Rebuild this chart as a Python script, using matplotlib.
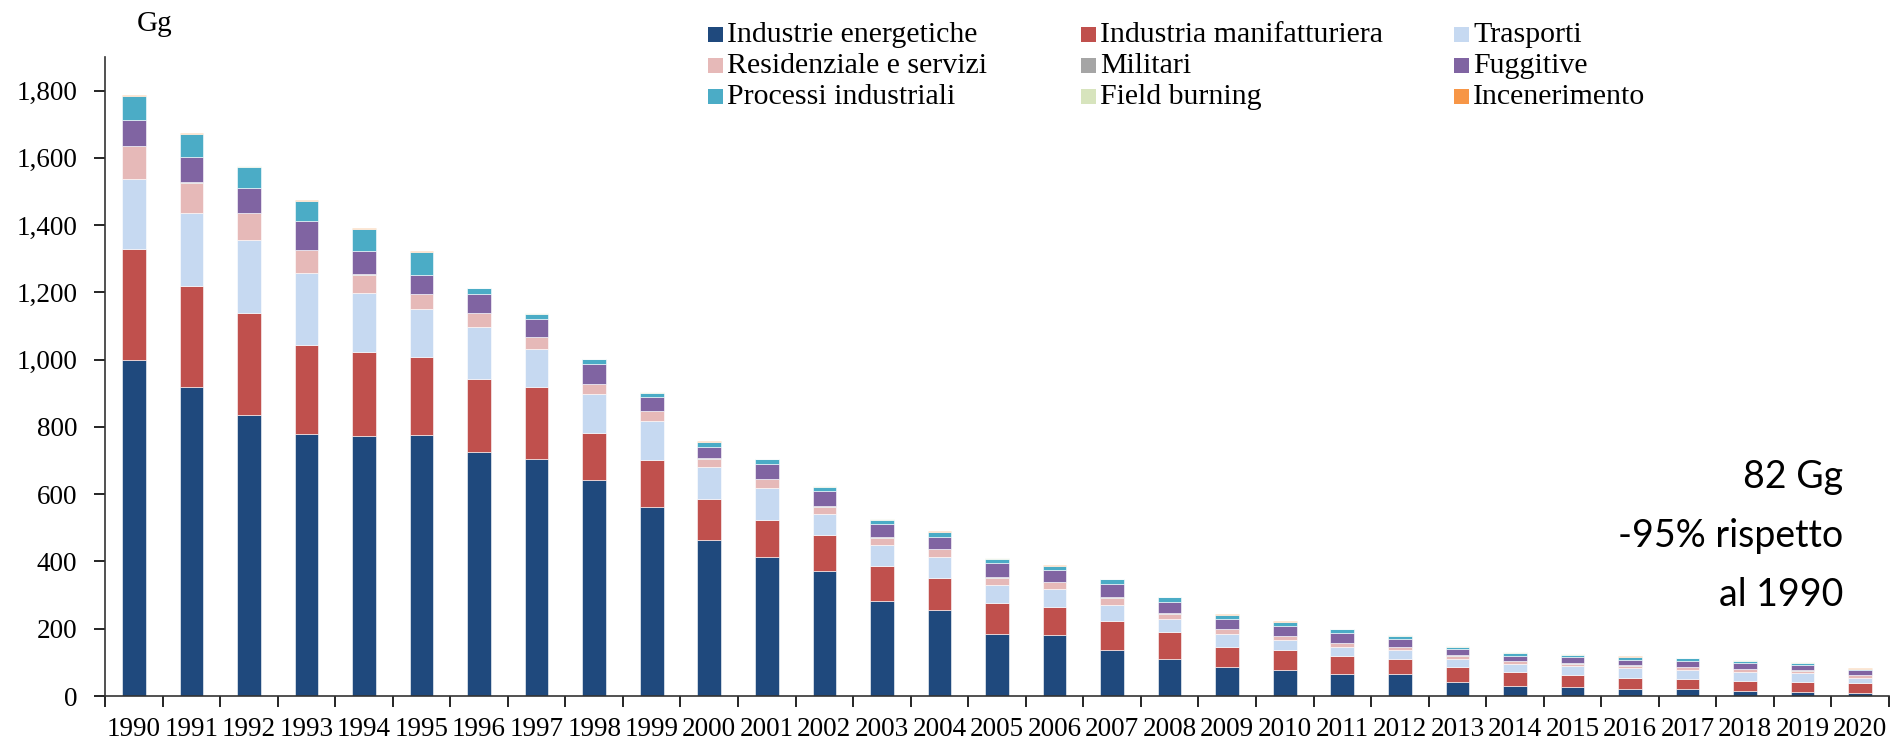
import numpy as np
import matplotlib
matplotlib.use("Agg")
import matplotlib.pyplot as plt
from matplotlib.patches import Rectangle
from matplotlib.ticker import FuncFormatter

years = list(range(1990, 2021))

# Gg per settore
energetiche = [1000, 918, 837, 778, 772, 775, 726, 706, 642, 563, 464, 414, 373, 281, 257,
               185, 182, 138, 111, 87, 76, 64, 64, 43, 30, 28, 22, 20, 16, 12, 10]
manifatturiera = [328, 301, 302, 266, 250, 232, 218, 214, 140, 140, 121, 110, 107, 107, 95,
                  92, 84, 85, 78, 59, 60, 56, 47, 44, 40, 34, 33, 30, 29, 30, 28]
trasporti = [208, 218, 218, 213, 175, 145, 154, 113, 117, 114, 96, 94, 61, 61, 61,
             53, 52, 49, 41, 38, 30, 27, 26, 24, 25, 26, 27, 28, 27, 25, 17]
residenziale = [99, 89, 79, 69, 56, 43, 41, 34, 28, 29, 25, 27, 22, 22, 23,
                22, 21, 20, 15, 15, 12, 10, 9, 9, 8, 8, 8, 8, 8, 8, 7]
militari = [1, 1, 1, 1, 1, 1, 1, 1, 1, 1, 1, 1, 1, 1, 1,
            1, 1, 1, 1, 1, 1, 1, 1, 1, 1, 1, 1, 1, 1, 1, 1]
fuggitive = [78, 77, 72, 84, 68, 57, 56, 54, 58, 42, 34, 45, 45, 39, 36,
             41, 34, 39, 33, 29, 29, 30, 23, 20, 16, 18, 17, 18, 17, 17, 13]
processi = [69, 67, 65, 60, 67, 67, 16, 15, 15, 13, 14, 13, 13, 13, 15,
            14, 13, 15, 14, 12, 12, 10, 9, 6, 9, 8, 7, 7, 7, 6, 4]
field_burning = [1, 1, 1, 1, 1, 1, 1, 1, 1, 1, 1, 1, 1, 1, 1,
                 1, 1, 1, 1, 1, 1, 1, 1, 1, 1, 1, 2, 1, 1, 1, 1]
incenerimento = [2, 2, 2, 2, 1, 1, 1, 1, 1, 1, 1, 1, 1, 1, 1,
                 1, 1, 1, 1, 1, 1, 1, 1, 1, 1, 1, 1, 1, 1, 1, 1]

labels = ["Industrie energetiche", "Industria manifatturiera", "Trasporti",
          "Residenziale e servizi", "Militari", "Fuggitive",
          "Processi industriali", "Field burning", "Incenerimento"]
colors = ["#1F497D", "#C0504D", "#C6D9F1", "#E6B9B8", "#A5A5A5", "#8064A2",
          "#4BACC6", "#D7E4BD", "#F79646"]
series = [energetiche, manifatturiera, trasporti, residenziale, militari,
          fuggitive, processi, field_burning, incenerimento]

plt.rcParams['font.family'] = ['Liberation Serif', 'DejaVu Serif']

W, H = 1900, 742
fig = plt.figure(figsize=(W / 100, H / 100), dpi=100)
ax = fig.add_axes([105 / W, 1 - 696 / H, 1784 / W, 639 / H])

x = np.arange(len(years))
bottom = np.zeros(len(years))
for vals, lab, col in zip(series, labels, colors):
    ax.bar(x, vals, width=0.41, bottom=bottom, color=col, label=lab,
           edgecolor='white', linewidth=0.4)
    bottom += np.array(vals)

ax.set_xlim(-0.5, len(years) - 0.5)
ax.set_ylim(0, 1900)
ax.set_yticks(range(0, 1801, 200))
ax.yaxis.set_major_formatter(FuncFormatter(lambda v, p: f"{int(v):,}"))
ax.set_xticks(x)
ax.set_xticklabels([str(y) for y in years])
ax.set_xticks(np.arange(len(years) + 1) - 0.5, minor=True)
ax.tick_params(axis='x', which='major', length=0, labelsize=19.5, pad=15)
ax.tick_params(axis='x', which='minor', length=8, width=1.2, direction='out')
ax.tick_params(axis='y', length=8, width=1.2, direction='out', labelsize=19.5, pad=12)

for s in ['top', 'right']:
    ax.spines[s].set_visible(False)
for s in ['left', 'bottom']:
    ax.spines[s].set_linewidth(1.2)
    ax.spines[s].set_color('#333333')

fig.text(155 / W, 1 - 24 / H, "Gg", fontsize=21, ha='center', va='center')

# legenda: 3 colonne, ordine per righe
col_x = [708, 1081, 1454]
row_y = [35, 66, 97]
for i, (lab, col) in enumerate(zip(labels, colors)):
    cx = col_x[i % 3]
    cy = row_y[i // 3]
    fig.patches.append(Rectangle(((cx) / W, 1 - (cy + 7) / H), 15 / W, 15 / H,
                                 transform=fig.transFigure, facecolor=col,
                                 edgecolor='none'))
    fig.text((cx + 19) / W, 1 - cy / H, lab, fontsize=21.5, ha='left',
             va='center')

fig.text(1843 / W, 1 - 536 / H, "82 Gg\n-95% rispetto\nal 1990",
         ha='right', va='center', fontsize=27,
         family=['Lato', 'DejaVu Sans'], linespacing=1.8)

fig.savefig("out.png", dpi=100)
